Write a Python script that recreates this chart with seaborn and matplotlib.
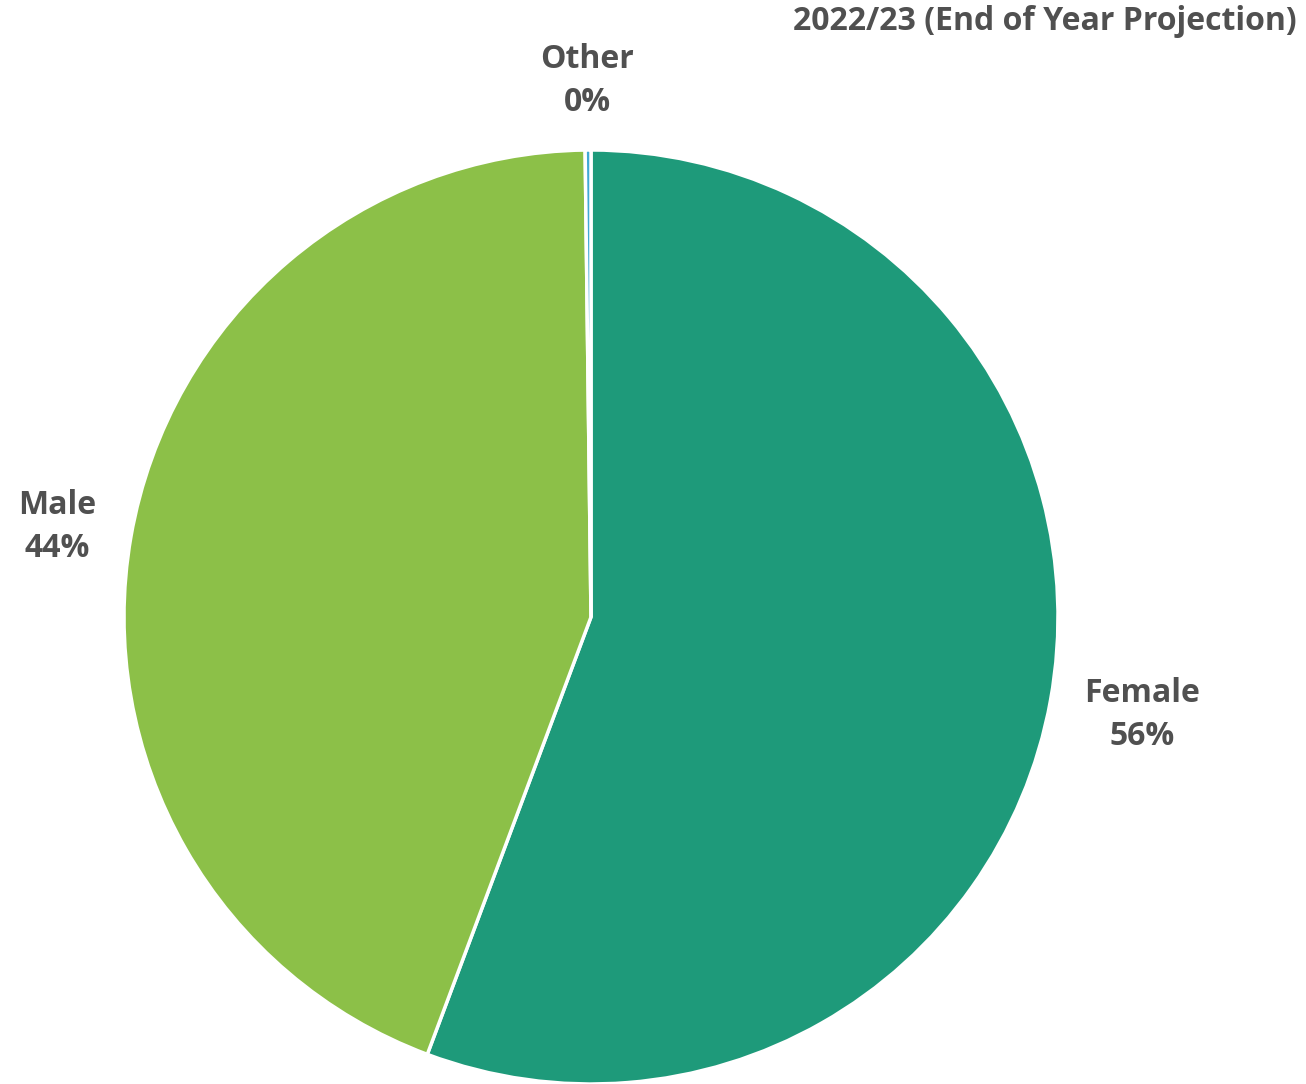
import matplotlib
matplotlib.use("Agg")
import matplotlib.pyplot as plt
import seaborn as sns

categories = ["Female", "Male", "Other"]
shares = [55.7, 44.1, 0.2]
label_texts = ["56%", "44%", "0%"]
title_text = "2022/23 (End of Year Projection)"

sns.set_theme(style="white")
plt.rcParams["font.family"] = ["Open Sans", "DejaVu Sans"]

colors = ["#1e9a7a", "#8cc048", "#3fa9d6"]
text_color = "#505050"

W, H = 1306, 1084
fig = plt.figure(figsize=(W / 100, H / 100), dpi=100)
cx, cy, r = 591, 617, 467
ax = fig.add_axes([(cx - r) / W, (H - cy - r) / H, 2 * r / W, 2 * r / H])
ax.pie(shares, colors=colors, startangle=90, counterclock=False, radius=1,
       wedgeprops=dict(edgecolor="white", linewidth=2.5))
ax.set_xlim(-1, 1)
ax.set_ylim(-1, 1)
ax.set_aspect("equal")
ax.axis("off")

label_pos = {"Female": (1142, 715), "Male": (57, 527), "Other": (587, 81)}
for cat, txt in zip(categories, label_texts):
    x, y = label_pos[cat]
    fig.text(x / W, 1 - y / H, f"{cat}\n{txt}", ha="center", va="center",
             fontsize=23, fontweight="bold", color=text_color, linespacing=1.42)

fig.text(1297 / W, 1 - 22 / H, title_text, ha="right", va="center",
         fontsize=23, fontweight="bold", color=text_color)

fig.savefig("out.png", dpi=100)
